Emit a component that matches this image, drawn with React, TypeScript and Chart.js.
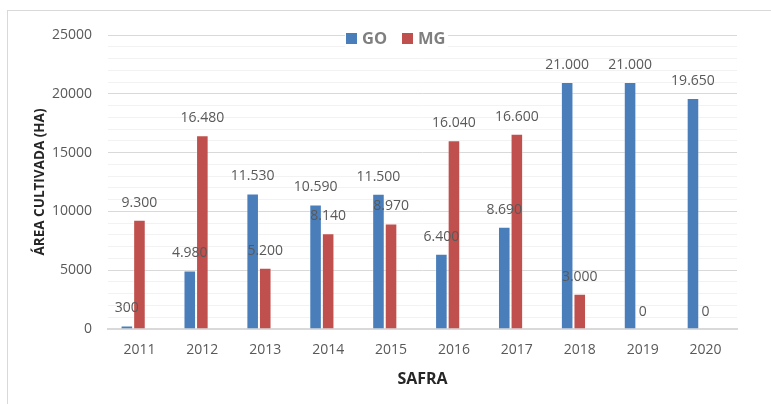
import React, { useEffect, useRef } from "react";
import { Chart, registerables } from "chart.js";

Chart.register(...registerables);

const categories = ["2011", "2012", "2013", "2014", "2015", "2016", "2017", "2018", "2019", "2020"];
const goValues = [300, 4980, 11530, 10590, 11500, 6400, 8690, 21000, 21000, 19650];
const mgValues = [9300, 16480, 5200, 8140, 8970, 16040, 16600, 3000, 0, 0];
const emptySeries = [null, null, null, null, null, null, null, null, null, null];
const seriesNames = ["GO", "MG"];
const yMax = 25000;
const yMinorStep = 1000;
const yMajorStep = 5000;

const BLUE = "#4a7ebb";
const RED = "#c0504d";
const FONT = "'Open Sans', 'Liberation Sans', sans-serif";

function fmt(v: number): string {
  return String(v).replace(/\B(?=(\d{3})+(?!\d))/g, ".");
}

const framePlugin = {
  id: "frame",
  beforeDraw(chart: any) {
    const ctx = chart.ctx;
    ctx.save();
    ctx.strokeStyle = "#d9d9d9";
    ctx.lineWidth = 1;
    ctx.strokeRect(7.5, 10.5, 900, 600);
    ctx.restore();
  },
};

const labelPlugin = {
  id: "barLabels",
  afterDatasetsDraw(chart: any) {
    const ctx = chart.ctx;
    ctx.save();
    ctx.font = `14px ${FONT}`;
    ctx.fillStyle = "#595959";
    ctx.textAlign = "center";
    ctx.textBaseline = "middle";
    [0, 1].forEach((di) => {
      const meta = chart.getDatasetMeta(di);
      const data = chart.data.datasets[di].data;
      meta.data.forEach((bar: any, i: number) => {
        const v = data[i];
        if (v === null || v === undefined) return;
        ctx.fillText(fmt(v), bar.x, bar.y - 17);
      });
    });
    ctx.restore();
  },
};

const legendPlugin = {
  id: "customLegend",
  afterDraw(chart: any) {
    const ctx = chart.ctx;
    ctx.save();
    ctx.fillStyle = "#ffffff";
    ctx.fillRect(345, 28, 103, 20);
    ctx.font = `bold 16.5px ${FONT}`;
    ctx.textBaseline = "middle";
    ctx.textAlign = "left";
    const items = [
      { x: 346, color: BLUE, text: seriesNames[0] },
      { x: 402, color: RED, text: seriesNames[1] },
    ];
    items.forEach((it) => {
      ctx.fillStyle = it.color;
      ctx.fillRect(it.x, 33, 11, 11);
      ctx.fillStyle = "#7f7f7f";
      ctx.fillText(it.text, it.x + 16, 39);
    });
    ctx.restore();
  },
};

export default function App() {
  const ref = useRef<HTMLCanvasElement | null>(null);
  useEffect(() => {
    document.body.style.margin = "0";
    const canvas = ref.current!;
    const chart = new Chart(canvas, {
      type: "bar",
      data: {
        labels: categories,
        datasets: [
          {
            label: seriesNames[0],
            data: goValues,
            backgroundColor: BLUE,
            borderColor: "rgba(255,255,255,0.3)",
            borderWidth: 1,
            categoryPercentage: 0.6,
            barPercentage: 1,
          },
          {
            label: seriesNames[1],
            data: mgValues,
            backgroundColor: RED,
            borderColor: "rgba(255,255,255,0.3)",
            borderWidth: 1,
            categoryPercentage: 0.6,
            barPercentage: 1,
          },
          {
            label: "",
            data: emptySeries as any,
            backgroundColor: "transparent",
            categoryPercentage: 0.6,
            barPercentage: 1,
          },
        ],
      },
      options: {
        responsive: false,
        animation: false,
        events: [],
        layout: { padding: { left: 0, right: 34, top: 35, bottom: 0 } },
        plugins: {
          legend: { display: false },
          tooltip: { enabled: false },
          title: { display: false },
        },
        scales: {
          x: {
            grid: { display: false, drawTicks: false },
            border: { display: true, color: "#d9d9d9", width: 2 },
            ticks: {
              color: "#595959",
              font: { family: FONT, size: 14 },
              padding: 13,
              maxRotation: 0,
            },
            title: {
              display: true,
              text: "SAFRA",
              color: "#262626",
              font: { family: FONT, size: 16, weight: "bold" },
              padding: { top: 0, bottom: 15 },
            },
            afterFit(scale: any) {
              scale.height = 75;
            },
          },
          y: {
            min: 0,
            max: yMax,
            grid: {
              drawTicks: false,
              color: (c: any) =>
                c.tick && c.tick.value % yMajorStep === 0 ? "#d9d9d9" : "#f2f2f2",
              lineWidth: 1,
            },
            border: { display: false },
            ticks: {
              stepSize: yMinorStep,
              autoSkip: false,
              color: "#595959",
              font: { family: FONT, size: 14 },
              padding: 16,
              callback: (v: any) => (Number(v) % yMajorStep === 0 ? String(v) : ""),
            },
            title: {
              display: true,
              text: "ÁREA CULTIVADA (HA)",
              color: "#262626",
              font: { family: FONT, size: 13.5, weight: "bold" },
              padding: { top: 32, bottom: 0 },
            },
            afterFit(scale: any) {
              scale.width = 108;
            },
          },
        },
      },
      plugins: [framePlugin, labelPlugin, legendPlugin],
    });
    return () => chart.destroy();
  }, []);
  return (
    <div style={{ width: 771, height: 404 }}>
      <canvas ref={ref} width={771} height={404} style={{ display: "block" }} />
    </div>
  );
}
